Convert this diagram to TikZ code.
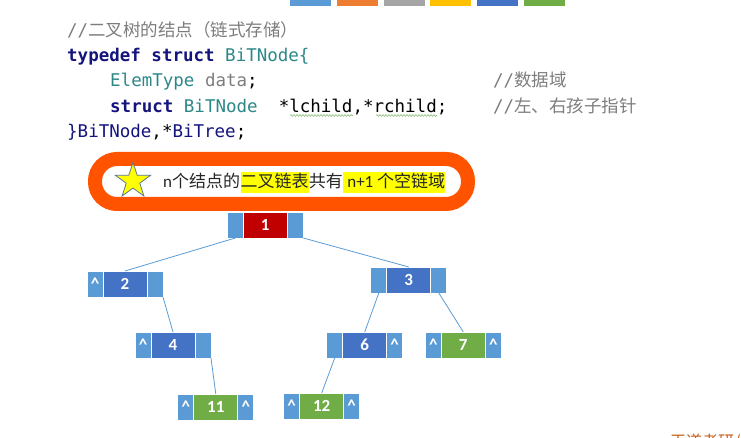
\documentclass[tikz,border=0pt]{standalone}
\usepackage{fontspec}
\setmainfont{Carlito}
\newfontfamily\cjkfont{Noto Sans CJK SC}
\newfontfamily\codefont{DejaVu Sans Mono}
\usepackage{tikz}
\usetikzlibrary{positioning,shapes.geometric,decorations.pathmorphing}
\usepackage{xcolor}
\definecolor{myptr}{RGB}{91,155,213}
\definecolor{myblue}{RGB}{68,114,196}
\definecolor{myred}{RGB}{192,0,0}
\definecolor{mygreen}{RGB}{112,173,71}
\definecolor{myaccent}{RGB}{237,125,49}
\definecolor{mysilver}{RGB}{165,165,165}
\definecolor{mygold}{RGB}{255,192,0}
\definecolor{myorange}{RGB}{255,83,0}
\definecolor{mynavy}{RGB}{20,20,125}
\definecolor{myteal}{RGB}{46,135,135}
\definecolor{mygray}{RGB}{125,125,125}
\definecolor{mymark}{RGB}{255,255,0}
\definecolor{mystarline}{RGB}{90,120,150}
\definecolor{mybrown}{RGB}{197,90,17}
\definecolor{mysquig}{RGB}{140,190,120}
\newcommand\labfont{\fontsize{17}{20}\selectfont\bfseries}
\newcommand\codesize{\fontsize{17.5}{21}\selectfont}
\newcommand\bansize{\fontsize{17}{20}\selectfont}
\newcommand\kw[1]{\textcolor{mynavy}{\bfseries #1}}
\newcommand\ty[1]{\textcolor{myteal}{#1}}
\newcommand\cmt[1]{\textcolor{mygray}{//{\cjkfont #1}}}
\tikzset{
  ptr/.style={rectangle,fill=myptr,draw=white,line width=0.8pt,minimum width=16pt,
    minimum height=26pt,inner sep=0pt,outer sep=0pt,text=white,font=\labfont},
  datum/.style={ptr,minimum width=44pt},
  link/.style={draw=myptr,line width=0.8pt},
  codeline/.style={anchor=base west,inner sep=0pt,font=\codesize\codefont},
  bantext/.style={anchor=base west,inner sep=0pt,text height=16pt,text depth=5pt,
    font=\bansize,text=black!85},
  scribble/.style={draw=myorange,line width=14pt,rounded corners=22pt},
  squig/.style={draw=mysquig,line width=0.6pt,decorate,
    decoration={snake,amplitude=0.9pt,segment length=3pt}},
}

\begin{document}
\begin{tikzpicture}[x=1pt,y=-1pt,node distance=0pt]
  \useasboundingbox (0,0) rectangle (741,438);
  % colour bar at the top
  \foreach \c [count=\i from 0] in {myptr,myaccent,mysilver,mygold,myblue,mygreen}
    \fill[\c] ({290+46.8*\i},0) rectangle ++(41,6);

  % code
  \node[codeline] (c1) at (67,36.5) {\cmt{二叉树的结点（链式存储）}};
  \node[codeline] (c2) at (67,62) {\kw{typedef struct} \ty{BiTNode\{}};
  \node[codeline] (c3) at (110,87) {\ty{ElemType} \textcolor{mygray}{data};};
  \node[codeline] (c3c) at (493,87) {\cmt{数据域}};
  \node[codeline] (c4) at (110,112.5) {\kw{struct} \ty{BiTNode}\ \ *lchild,*rchild;};
  \node[codeline] (c4c) at (493,112.5) {\cmt{左、右孩子指针}};
  \node[codeline] (c5) at (67,138) {\textcolor{mynavy}{\}BiTNode},*\textcolor{mynavy}{BiTree};};
  \draw[squig] (290,115.5) -- (353,115.5);
  \draw[squig] (376,115.5) -- (437,115.5);

  % marked remark
  \draw[scribble] (95,159) rectangle (468,204);
  \node[star,star points=5,star point ratio=2.6,minimum size=37pt,inner sep=0pt,
    fill=mymark,draw=mystarline,line width=0.8pt] (st) at (133,181) {};
  \node[bantext] (b1) at (163,188) {n{\cjkfont 个结点的}};
  \node[bantext,fill=mymark] (b2) at (b1.base east) {{\cjkfont 二叉链表}};
  \node[bantext] (b3) at (b2.base east) {{\cjkfont 共有}\hspace{2pt}};
  \node[bantext,fill=mymark] (b4) at (b3.base east) {\hspace{4pt}n+1 {\cjkfont 个空链域}};

  % binary linked list
  \node[datum,fill=myred] (n1) at (265.3,225) {1};
  \node[ptr,left=of n1] (n1l) {};
  \node[ptr,right=of n1] (n1r) {};

  \node[datum,fill=myblue] (n2) at (125,284) {2};
  \node[ptr,left=of n2] (n2l) {\textasciicircum};
  \node[ptr,right=of n2] (n2r) {};

  \node[datum,fill=myblue] (n3) at (408.8,280) {3};
  \node[ptr,left=of n3] (n3l) {};
  \node[ptr,right=of n3] (n3r) {};

  \node[datum,fill=myblue] (n4) at (173,345) {4};
  \node[ptr,left=of n4] (n4l) {\textasciicircum};
  \node[ptr,right=of n4] (n4r) {};

  \node[datum,fill=myblue] (n6) at (364.7,345) {6};
  \node[ptr,left=of n6] (n6l) {};
  \node[ptr,right=of n6] (n6r) {\textasciicircum};

  \node[datum,fill=mygreen] (n7) at (463.3,345) {7};
  \node[ptr,left=of n7] (n7l) {\textasciicircum};
  \node[ptr,right=of n7] (n7r) {\textasciicircum};

  \node[datum,fill=mygreen] (n11) at (215.8,407) {11};
  \node[ptr,left=of n11] (n11l) {\textasciicircum};
  \node[ptr,right=of n11] (n11r) {\textasciicircum};

  \node[datum,fill=mygreen] (n12) at (321.7,406) {12};
  \node[ptr,left=of n12] (n12l) {\textasciicircum};
  \node[ptr,right=of n12] (n12r) {\textasciicircum};

  \draw[link] (n1l.south) -- (n2.north);
  \draw[link] (n1r.south east) -- (n3.north);
  \draw[link] (n2r.south east) -- (n4.north);
  \draw[link] (n3l.south) -- (n6.north);
  \draw[link] (n3r.south) -- (n7.north);
  \draw[link] (n4r.south east) -- (n11.north);
  \draw[link] (n6l.south) -- (n12.north);

  \node[anchor=base west,inner sep=0pt,text=mybrown,font=\fontsize{16}{18}\selectfont\cjkfont]
    (wm) at (670,447) {王道考研/C};
\end{tikzpicture}
\end{document}
